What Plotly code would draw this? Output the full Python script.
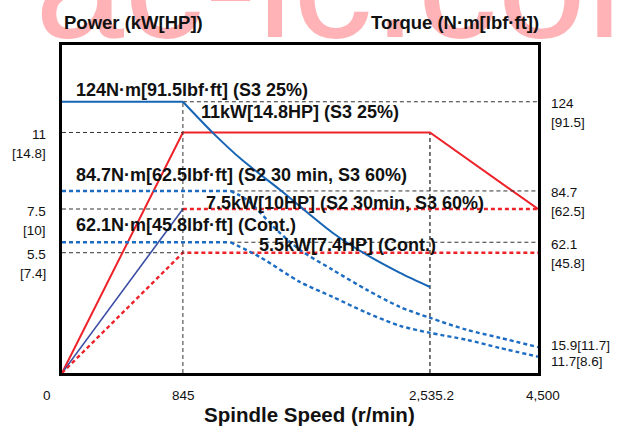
import numpy as np
import plotly.graph_objects as go

# ---------------- data ----------------
# x axis is schematic: tick speeds and where they sit along the axis (fraction of width)
speed_ticks = [0, 845, 2535.2, 4500]
speed_tick_text = ["0", "845", "2,535.2", "4,500"]
speed_tick_pos = [0.0, 0.254, 0.773, 1.0]

power_ticks = [11, 7.5, 5.5]
power_tick_hp = ["[14.8]", "[10]", "[7.4]"]
torque_ticks = [124, 84.7, 62.1]
torque_tick_lbf = ["[91.5]", "[62.5]", "[45.8]"]
torque_end_values = [15.9, 11.7]
torque_end_text = ["15.9[11.7]", "11.7[8.6]"]

# power curves (kW)
p_s3_speed = [0, 845, 2535.2, 4500]
p_s3_kw = [0, 11, 11, 7.5]
p_s2_ramp_speed = [0, 845]
p_s2_ramp_kw = [0, 7.5]
p_s2_flat_speed = [845, 4500]
p_s2_flat_kw = [7.5, 7.5]
p_cont_speed = [0, 845, 4500]
p_cont_kw = [0, 5.5, 5.5]

# torque curves (N·m)
t_s3_speed = [0, 845, 1050, 1249, 1509, 1871, 2104, 2330, 2535.2]
t_s3_nm = [124, 124, 110.3, 98.4, 85.2, 66.2, 56.5, 48.6, 42.4]
t_s2_speed = [0, 1170, 1283, 1488, 1646, 1871, 2104, 2330, 2535.2, 3208, 3809, 4500]
t_s2_nm = [84.7, 84.7, 80.8, 67.5, 58.7, 49.9, 41.1, 33.6, 28.8, 23.5, 20.0, 15.9]
t_cont_speed = [0, 1170, 1372, 1646, 1871, 2104, 2330, 2535.2, 3208, 3809, 4500]
t_cont_nm = [62.1, 62.1, 55.6, 44.6, 38.0, 31.0, 25.3, 22.2, 19.1, 15.5, 11.7]

curve_labels = [
    "124N·m[91.5lbf·ft] (S3 25%)",
    "11kW[14.8HP] (S3 25%)",
    "84.7N·m[62.5lbf·ft] (S2 30 min, S3 60%)",
    "7.5kW[10HP] (S2 30min, S3 60%)",
    "62.1N·m[45.8lbf·ft] (Cont.)",
    "5.5kW[7.4HP] (Cont.)",
]
watermark = "ac-ic.com"

# ---------------- styling ----------------
FONT = "Liberation Sans, Arial, sans-serif"
RED = "#EE2229"
BLUE = "#1665B5"
NAVY = "#3B4DA3"
BLUE_D = "#1C6DC2"
GRID = "#333333"

P_RANGE = [0, 15]
T_RANGE = [4.5, 149]


def sx(speeds):
    """Schematic speed scale of the chart's x axis."""
    return np.interp(np.asarray(speeds, dtype=float), speed_ticks, speed_tick_pos)


fig = go.Figure()


def line(xs, ys, axis, color, width, dash="solid", shape="linear"):
    fig.add_trace(go.Scatter(
        x=sx(xs), y=ys, yaxis=axis, mode="lines",
        line=dict(color=color, width=width, dash=dash, shape=shape, smoothing=0.8),
        showlegend=False, hoverinfo="skip"))


# reference dashed lines
ref_dash = "4px,3px"
for v in power_ticks:
    line([0, speed_ticks[1]], [v, v], "y", GRID, 1, ref_dash)
line([speed_ticks[1], speed_ticks[3]], [torque_ticks[0]] * 2, "y2", GRID, 1, ref_dash)
line([t_s2_speed[1], speed_ticks[3]], [torque_ticks[1]] * 2, "y2", GRID, 1, ref_dash)
line([t_cont_speed[1], speed_ticks[3]], [torque_ticks[2]] * 2, "y2", GRID, 1, ref_dash)
line([speed_ticks[1]] * 2, [T_RANGE[0], torque_ticks[0]], "y2", GRID, 1, ref_dash)
line([speed_ticks[2]] * 2, [0, power_ticks[0]], "y", "#555555", 1.6, ref_dash)

# power curves
line(p_s3_speed, p_s3_kw, "y", RED, 2)
line(p_s2_ramp_speed, p_s2_ramp_kw, "y", NAVY, 1.6)
line(p_s2_flat_speed, p_s2_flat_kw, "y", RED, 2.4, "4px,3px")
line(p_cont_speed, p_cont_kw, "y", RED, 2.4, "4px,3px")

# torque curves: constant-torque part straight, falling part smooth
line(t_s3_speed[:2], t_s3_nm[:2], "y2", BLUE, 2)
line(t_s3_speed[1:], t_s3_nm[1:], "y2", BLUE, 2, shape="spline")
line(t_s2_speed[:2], t_s2_nm[:2], "y2", BLUE_D, 2.4, "4px,3px")
line(t_s2_speed[1:], t_s2_nm[1:], "y2", BLUE_D, 2.4, "4px,3px", "spline")
line(t_cont_speed[:2], t_cont_nm[:2], "y2", BLUE_D, 2.4, "4px,3px")
line(t_cont_speed[1:], t_cont_nm[1:], "y2", BLUE_D, 2.4, "4px,3px", "spline")

TICK = dict(size=13.5, color="#111")
ann = []
# faint watermark across the top edge
ann.append(dict(x=-0.06, xref="paper", y=0.915, yref="paper", text=watermark,
                xanchor="left", yanchor="bottom", showarrow=False,
                font=dict(size=160, color="#FFB3B6", family=FONT)))
# left power labels
for v, hp in zip(power_ticks, power_tick_hp):
    ann.append(dict(x=0, xref="paper", y=v, yref="y", text=f"{v:g}", xanchor="right",
                    yanchor="middle", xshift=-14, yshift=-2, showarrow=False, font=TICK))
    ann.append(dict(x=0, xref="paper", y=v, yref="y", text=hp, xanchor="right",
                    yanchor="middle", xshift=-14, yshift=-21, showarrow=False, font=TICK))
# right torque labels
for v, lb in zip(torque_ticks, torque_tick_lbf):
    ann.append(dict(x=1, xref="paper", y=v, yref="y2", text=f"{v:g}", xanchor="left",
                    yanchor="middle", xshift=11, yshift=-2, showarrow=False, font=TICK))
    ann.append(dict(x=1, xref="paper", y=v, yref="y2", text=lb, xanchor="left",
                    yanchor="middle", xshift=11, yshift=-21, showarrow=False, font=TICK))
for v, t, ys in zip(torque_end_values, torque_end_text, [2, -5]):
    ann.append(dict(x=1, xref="paper", y=v, yref="y2", text=t, xanchor="left",
                    yanchor="middle", xshift=11, yshift=ys, showarrow=False, font=TICK))
# x tick labels below the axis
for s, t, xs in zip(speed_ticks, speed_tick_text, [-15, 1, 2, 5]):
    ann.append(dict(x=float(sx(s)), xref="x", y=-0.07, yref="paper", text=t,
                    xanchor="center", yanchor="middle", xshift=xs, showarrow=False,
                    font=TICK))

# curve labels (left x in axis fraction, y in paper)
label_pos = [(0.025, 0.863), (0.288, 0.796), (0.025, 0.604),
             (0.298, 0.518), (0.025, 0.451), (0.410, 0.390)]
for t, (lx, ly) in zip(curve_labels, label_pos):
    ann.append(dict(x=lx, xref="paper", y=ly, yref="paper", text=f"<b>{t}</b>",
                    xanchor="left", yanchor="middle", showarrow=False,
                    font=dict(size=18, color="#111")))

# titles
ann.append(dict(x=0, xref="paper", y=1.07, yref="paper", text="<b>Power (kW[HP])</b>",
                xanchor="left", yanchor="middle", showarrow=False,
                font=dict(size=18.5, color="#111")))
ann.append(dict(x=1.006, xref="paper", y=1.07, yref="paper",
                text="<b>Torque (N·m[lbf·ft])</b>", xanchor="right", yanchor="middle",
                showarrow=False, font=dict(size=18.5, color="#111")))
ann.append(dict(x=0.519, xref="paper", y=-0.128, yref="paper",
                text="<b>Spindle Speed (r/min)</b>", xanchor="center", yanchor="middle",
                showarrow=False, font=dict(size=20.5, color="#111")))

fig.update_layout(
    width=624, height=433,
    margin=dict(l=62, r=86, t=45, b=60),
    paper_bgcolor="white", plot_bgcolor="white",
    font=dict(family=FONT, color="#111"),
    annotations=ann,
    xaxis=dict(range=[0, 1], showgrid=False, zeroline=False, showticklabels=False,
               showline=True, mirror=True, linecolor="black", linewidth=2.5, ticks=""),
    yaxis=dict(range=P_RANGE, showgrid=False, zeroline=False, showticklabels=False,
               showline=True, mirror=True, linecolor="black", linewidth=2.5, ticks=""),
    yaxis2=dict(range=T_RANGE, overlaying="y", side="right", showgrid=False,
                zeroline=False, showticklabels=False, showline=False, ticks=""),
)

fig.write_html("out.html", config={"displayModeBar": False},
               post_script="document.body.style.margin='0';")
